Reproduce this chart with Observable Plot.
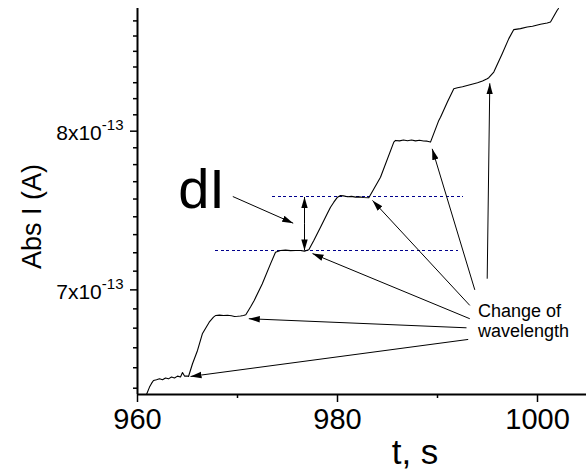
<!DOCTYPE html>
<html><head><meta charset="utf-8">
<script src="https://cdn.jsdelivr.net/npm/d3@7"></script>
<script src="https://cdn.jsdelivr.net/npm/@observablehq/plot@0.6"></script>
<style>
body{margin:0;background:#fff;}
#chart{width:586px;height:476px;}
</style></head><body><div id="chart"></div>
<script>
// Measured photocurrent, time in s, |I| in units of 1e-13 A
const t = [960.9, 961.2, 961.4, 961.6, 961.9, 962.2, 962.5, 962.8, 963.1, 963.4, 963.7, 964.0, 964.3, 964.5, 964.7, 965.0, 965.1,
  965.5, 966.0, 966.5, 967.17, 967.6, 967.83,
  968.2, 968.6, 969.0, 969.4, 969.7, 970.0, 970.3, 970.6, 970.83,
  971.3, 971.67, 972.47, 973.3, 973.8,
  974.3, 974.8, 975.3, 975.8, 976.3, 976.7, 977.13,
  977.63, 978.3, 978.97, 979.3, 979.63, 980.0, 980.3,
  980.6, 981.0, 981.4, 981.8, 982.2, 982.6, 983.13,
  984.3, 985.63, 985.8,
  986.2, 986.6, 987.0, 987.4, 987.8, 988.2, 988.6, 988.97, 989.3,
  990.13, 990.3, 991.0, 991.63,
  992.0, 992.5, 992.97, 993.63, 994.0, 994.5, 994.97, 995.13,
  995.63, 996.47, 997.13, 997.63,
  998.3, 998.97, 999.5, 1000.3, 1000.97, 1001.3,
  1001.97, 1002.1];
const absI = [6.41, 6.45, 6.47, 6.486, 6.49, 6.495, 6.49, 6.50, 6.495, 6.505, 6.50, 6.51, 6.505, 6.53, 6.51, 6.51, 6.508,
  6.578, 6.652, 6.748, 6.812, 6.841, 6.851,
  6.853, 6.851, 6.852, 6.849, 6.845, 6.846, 6.848, 6.851, 6.855,
  6.90, 6.938, 7.035, 7.155, 7.225,
  7.236, 7.238, 7.235, 7.236, 7.236, 7.232, 7.240,
  7.297, 7.379, 7.463, 7.504, 7.536, 7.568, 7.578,
  7.576, 7.571, 7.573, 7.568, 7.570, 7.566, 7.564,
  7.696, 7.927, 7.938,
  7.935, 7.941, 7.936, 7.941, 7.935, 7.939, 7.934, 7.933, 7.927,
  8.073, 8.095, 8.20, 8.291,
  8.298, 8.305, 8.314, 8.326, 8.333, 8.345, 8.361, 8.368,
  8.408, 8.539, 8.648, 8.714,
  8.721, 8.733, 8.738, 8.753, 8.763, 8.770,
  8.857, 8.87];

// Axes
const xDomain = [960, 1004.9];
const yDomain = [6.41, 8.87];
const xTicks = [960, 980, 1000];
const xMinorTicks = [970, 990];
const yTicks = [7, 8];
const yExponent = "-13";
const yMinorTicks = [6.444, 6.556, 6.667, 6.778, 6.889, 7.111, 7.222, 7.333, 7.444, 7.556, 7.667, 7.778, 7.889,
  8.111, 8.222, 8.333, 8.444, 8.556, 8.667, 8.778];
const xLabel = "t, s";
const yLabel = "Abs I (A)";

// Annotations (data units)
const levelT1 = [973.5, 967.8];
const levelT2 = [992.6, 992.1];
const levelI = [7.569, 7.236];
const changeHeadT = [965.3, 971.13, 977.5, 983.5, 989.47, 995.23];
const changeHeadI = [6.508, 6.832, 7.217, 7.547, 7.882, 8.329];
const changeTailT = [993.07, 992.9, 993.23, 993.23, 993.73, 994.97];
const changeTailI = [6.714, 6.780, 6.832, 6.909, 7.000, 7.066];
const changeText = ["Change of\nwavelength"];
const changeTextT = [994.04];
const changeTextI = [6.925];
const dIText = ["dI"];
const dITextT = [966.4];
const dITextI = [7.611];
const dIPointerT1 = [969.53], dIPointerI1 = [7.572];
const dIPointerT2 = [975.57], dIPointerI2 = [7.404];
const dIBarT = [976.7, 976.7];
const dIBarFromI = [7.40, 7.40];
const dIBarToI = [7.569, 7.236];

const ns = "http://www.w3.org/2000/svg";
function solidHead(color, context) {
  const doc = (context && context.document) || document;
  const m = doc.createElementNS(ns, "marker");
  m.setAttribute("viewBox", "-11 -4 12 8");
  m.setAttribute("markerWidth", "12");
  m.setAttribute("markerHeight", "8");
  m.setAttribute("markerUnits", "userSpaceOnUse");
  m.setAttribute("orient", "auto");
  m.setAttribute("refX", "0");
  m.setAttribute("refY", "0");
  const p = doc.createElementNS(ns, "path");
  p.setAttribute("d", "M0,0L-11,-3.2L-11,3.2Z");
  p.setAttribute("fill", "black");
  p.setAttribute("stroke", "none");
  m.appendChild(p);
  return m;
}

const idx = (a) => a.map((_, i) => i);
const blank = () => "";

function build(marker) {
  return Plot.plot({
    width: 586, height: 476,
    marginLeft: 137, marginRight: 0, marginTop: 8, marginBottom: 82,
    style: {fontFamily: "'Liberation Sans', Arial, sans-serif", background: "white", color: "black"},
    x: {domain: xDomain},
    y: {type: "log", domain: yDomain},
    marks: [
      Plot.axisX(xTicks, {anchor: "bottom", tickSize: 8, tickPadding: 6, fontSize: 29, tickFormat: d => String(d), strokeWidth: 1.5, label: null}),
      Plot.axisX(xMinorTicks, {anchor: "bottom", tickSize: 4, tickFormat: blank, strokeWidth: 1.5, label: null}),
      Plot.axisY(yTicks, {anchor: "left", tickSize: 7, tickFormat: blank, strokeWidth: 1.5, label: null}),
      Plot.axisY(yTicks, {anchor: "left", tickSize: 0, tickPadding: 14, dy: 2, fontSize: 21, tickFormat: d => `${d}x10`, label: null}),
      Plot.axisY(yMinorTicks, {anchor: "left", tickSize: 4, tickFormat: blank, strokeWidth: 1.5, label: null}),
      Plot.ruleX([xDomain[0]], {stroke: "black", strokeWidth: 2}),
      Plot.ruleY([yDomain[0]], {stroke: "black", strokeWidth: 2}),
      Plot.ruleY(idx(levelI), {y: levelI, x1: levelT1, x2: levelT2, stroke: "#00008c", strokeWidth: 1, strokeDasharray: "3,2.6", shapeRendering: "crispEdges"}),
      Plot.line(idx(t), {x: t, y: absI, stroke: "black", strokeWidth: 1.1}),
      Plot.link(idx(changeHeadT), {x1: changeTailT, y1: changeTailI, x2: changeHeadT, y2: changeHeadI, stroke: "black", strokeWidth: 1, markerEnd: marker}),
      Plot.link([0], {x1: dIPointerT1, y1: dIPointerI1, x2: dIPointerT2, y2: dIPointerI2, stroke: "black", strokeWidth: 1, markerEnd: marker}),
      Plot.link(idx(dIBarT), {x1: dIBarT, y1: dIBarFromI, x2: dIBarT, y2: dIBarToI, stroke: "black", strokeWidth: 1, markerEnd: marker}),
      Plot.text(dIText, {x: dITextT, y: dITextI, text: d => d, fontSize: 56, textAnchor: "middle", fill: "black"}),
      Plot.text(changeText, {x: changeTextT, y: changeTextI, text: d => d, fontSize: 18, textAnchor: "start", lineAnchor: "top", lineHeight: 1.11, fill: "black"}),
      Plot.text([xLabel], {frameAnchor: "bottom", dx: 53, dy: 45, text: d => d, fontSize: 35, textAnchor: "middle", lineAnchor: "top", fill: "black"}),
      Plot.text([yLabel], {frameAnchor: "left", dx: -105, dy: 15, rotate: -90, text: d => d, fontSize: 27, textAnchor: "middle", lineAnchor: "middle", fill: "black"})
    ]
  });
}

let svg;
try { svg = build(solidHead); } catch (e) { svg = build("arrow"); }

// superscript exponent on y tick labels
svg.querySelectorAll('g[aria-label="y-axis tick label"] text').forEach(el => {
  if (!el.textContent) return;
  const ts = document.createElementNS(ns, "tspan");
  ts.setAttribute("dy", "-9.5");
  ts.setAttribute("font-size", "15");
  ts.textContent = yExponent;
  el.appendChild(ts);
});

document.getElementById("chart").append(svg);
</script>
</body></html>
